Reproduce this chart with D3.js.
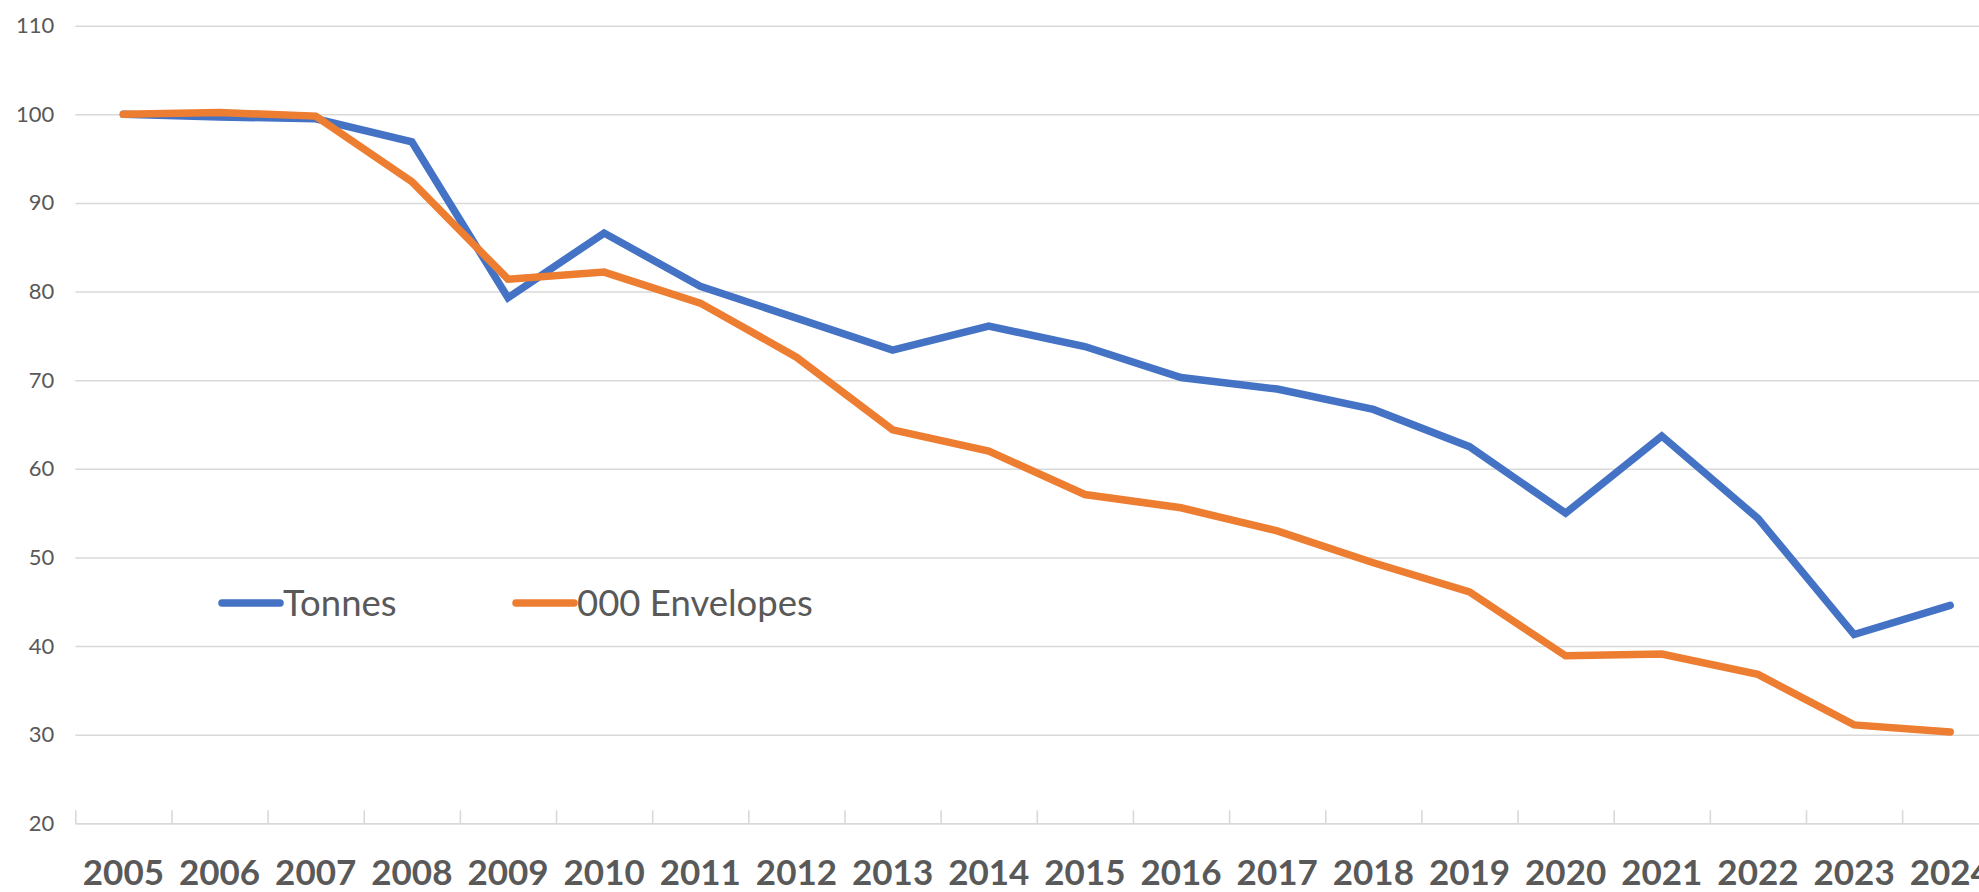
<!DOCTYPE html>
<html>
<head>
<meta charset="utf-8">
<script src="https://cdn.jsdelivr.net/npm/d3@7"></script>
<style>
  body { margin: 0; background: #fff; overflow: hidden; }
  text { font-family: Lato, "Open Sans", sans-serif; fill: #595959; }
</style>
</head>
<body>
<div id="chart"></div>
<script>
// data
var years = ["2005","2006","2007","2008","2009","2010","2011","2012","2013","2014",
             "2015","2016","2017","2018","2019","2020","2021","2022","2023","2024"];
var tonnes = [100, 99.7, 99.5, 96.9, 79.3, 86.6, 80.6, 77.0, 73.4, 76.1,
              73.8, 70.3, 69.0, 66.7, 62.5, 55.0, 63.7, 54.4, 41.3, 44.6];
var envelopes = [100, 100.2, 99.8, 92.4, 81.4, 82.2, 78.7, 72.6, 64.4, 62.0,
                 57.1, 55.6, 53.0, 49.4, 46.1, 38.9, 39.1, 36.8, 31.1, 30.3];
var yTicks = [20, 30, 40, 50, 60, 70, 80, 90, 100, 110];
var seriesNames = ["Tonnes", "000 Envelopes"];
var colors = ["#4472C4", "#ED7D31"];

var svgWidth = 1979;
var svgHeight = 892;

var plotLeft = 75.3;
var plotRight = 75.3 + 96.15 * years.length; // runs off the right edge, like the original
var plotTop = 25.7;
var plotBottom = 823.3;

var svg = d3.select("#chart")
  .append("svg")
  .attr("width", svgWidth)
  .attr("height", svgHeight);

var xScale = d3.scaleBand()
  .domain(years)
  .range([plotLeft, plotRight])
  .padding(0);

var yScale = d3.scaleLinear()
  .domain([20, 110])
  .range([plotBottom, plotTop]);

// gridlines + y labels
var yAxis = svg.append("g")
  .attr("transform", `translate(${plotLeft},0)`)
  .call(d3.axisLeft(yScale)
    .tickValues(yTicks)
    .tickSize(-(plotRight - plotLeft))
    .tickPadding(21));

yAxis.select(".domain").remove();
yAxis.selectAll(".tick line")
  .attr("stroke", "#D9D9D9")
  .attr("stroke-width", 1.6);
yAxis.selectAll(".tick text")
  .style("font-size", "22px")
  .style("fill", "#595959");

// category boundary tick marks (pointing up into the plot)
var edgeScale = d3.scaleLinear()
  .domain([0, years.length])
  .range([plotLeft, plotRight]);

var xTickAxis = svg.append("g")
  .attr("transform", `translate(0,${plotBottom})`)
  .call(d3.axisBottom(edgeScale)
    .tickValues(d3.range(0, years.length + 1))
    .tickSize(-13)
    .tickSizeOuter(0)
    .tickFormat(""));

xTickAxis.select(".domain").attr("stroke", "#D9D9D9").attr("stroke-width", 1.6);
xTickAxis.selectAll(".tick line").attr("stroke", "#D9D9D9").attr("stroke-width", 1.6);

// year labels
var xAxis = svg.append("g")
  .attr("transform", `translate(0,${plotBottom})`)
  .call(d3.axisBottom(xScale).tickSize(0).tickPadding(37));

xAxis.select(".domain").remove();
xAxis.selectAll(".tick text")
  .style("font-size", "35px")
  .style("font-weight", "bold")
  .style("fill", "#595959");

// lines
var line = d3.line()
  .x((d, i) => xScale(years[i]) + xScale.bandwidth() / 2)
  .y(d => yScale(d));

[tonnes, envelopes].forEach(function(values, k) {
  svg.append("path")
    .datum(values)
    .attr("fill", "none")
    .attr("stroke", colors[k])
    .attr("stroke-width", 7.5)
    .attr("stroke-linecap", "round")
    .attr("stroke-linejoin", "miter")
    .attr("d", line);
});

// legend inside the plot
var legendX = [222, 516];
var legend = svg.append("g");
seriesNames.forEach(function(name, k) {
  var g = legend.append("g").attr("transform", `translate(${legendX[k]},603)`);
  g.append("line")
    .attr("x1", 0).attr("x2", 58)
    .attr("y1", 0).attr("y2", 0)
    .attr("stroke", colors[k])
    .attr("stroke-width", 7.5)
    .attr("stroke-linecap", "round");
  g.append("text")
    .attr("x", 61)
    .attr("y", 13)
    .style("font-size", "36.5px")
    .text(name);
});
</script>
</body>
</html>
